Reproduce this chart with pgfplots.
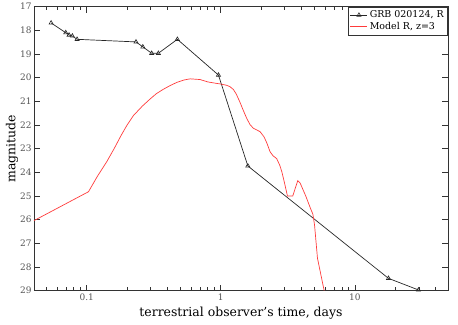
\documentclass[border=0pt]{standalone}
\usepackage{fontspec}
\setmainfont{DejaVu Serif}
\usepackage{pgfplots}
\pgfplotsset{compat=1.18}
\definecolor{axgray}{HTML}{333333}
\definecolor{lblgray}{HTML}{555555}
\definecolor{modred}{HTML}{FF3B3B}

\begin{document}
\begin{tikzpicture}
\begin{axis}[
    name=ax,
    scale only axis,
    width=414bp, height=284bp,
    xmode=log, log ticks with fixed point,
    xmin=0.0404, xmax=49.5,
    ymin=17, ymax=29, y dir=reverse,
    ytick={17,18,...,29},
    axis line style={axgray, line width=0.8pt},
    every tick/.style={axgray, line width=0.7pt},
    major tick length=6bp, minor tick length=3.5bp,
    tick label style={font=\fontsize{9}{11}\selectfont, text=lblgray},
    yticklabel style={xshift=1bp},
    /pgf/number format/assume math mode=true,
    xlabel={terrestrial observer's time, days},
    ylabel={magnitude},
    label style={font=\fontsize{12.5}{14}\selectfont},
    xlabel style={yshift=1bp},
    ylabel style={yshift=-5bp},
    legend style={at={(1,1)}, anchor=north east, draw=axgray, line width=0.6pt,
        font=\fontsize{9.5}{11}\selectfont, row sep=-1pt, inner sep=2pt},
    legend cell align=left,
]
\addplot[black!85, line width=0.7pt, mark=triangle, mark size=2.4pt,
    mark options={solid, line width=0.6pt}] coordinates {
    (0.0542,17.69) (0.0697,18.10) (0.0738,18.20) (0.0781,18.24) (0.0847,18.38)
    (0.233,18.49) (0.262,18.70) (0.305,18.97) (0.342,18.97) (0.474,18.38)
    (0.96,19.89) (1.59,23.73) (17.8,28.48) (29.8,28.97)};
\addlegendentry{GRB 020124, R}
\addplot[modred, line width=0.7pt] coordinates {
    (0.0404,26.04) (0.103,24.82) (0.12,24.17) (0.141,23.55) (0.16,23.0)
    (0.18,22.45) (0.2,22.0) (0.223,21.6) (0.26,21.2) (0.297,20.9)
    (0.33,20.68) (0.37,20.5) (0.42,20.33) (0.47,20.2) (0.53,20.1)
    (0.59,20.05) (0.7,20.08) (0.8,20.18) (0.9,20.23) (1.0,20.27) (1.1,20.32)
    (1.17,20.38) (1.24,20.5) (1.3,20.68) (1.38,21.0) (1.47,21.38) (1.56,21.72)
    (1.65,21.98) (1.75,22.14) (1.96,22.28) (2.1,22.5) (2.2,22.75) (2.33,23.13)
    (2.45,23.3) (2.61,23.42) (2.75,23.7) (2.85,23.97) (3.0,24.5) (3.14,25.0)
    (3.44,25.0) (3.75,24.35) (3.91,24.46) (4.3,25.0) (4.64,25.49) (4.86,25.77)
    (5.0,26.22) (5.26,27.63) (5.9,29.0)};
\addlegendentry{Model R, z=3}
\end{axis}
\path (ax.south west) ++(-34bp,-34bp) (ax.north east) ++(10bp,5bp);
\end{tikzpicture}
\end{document}
